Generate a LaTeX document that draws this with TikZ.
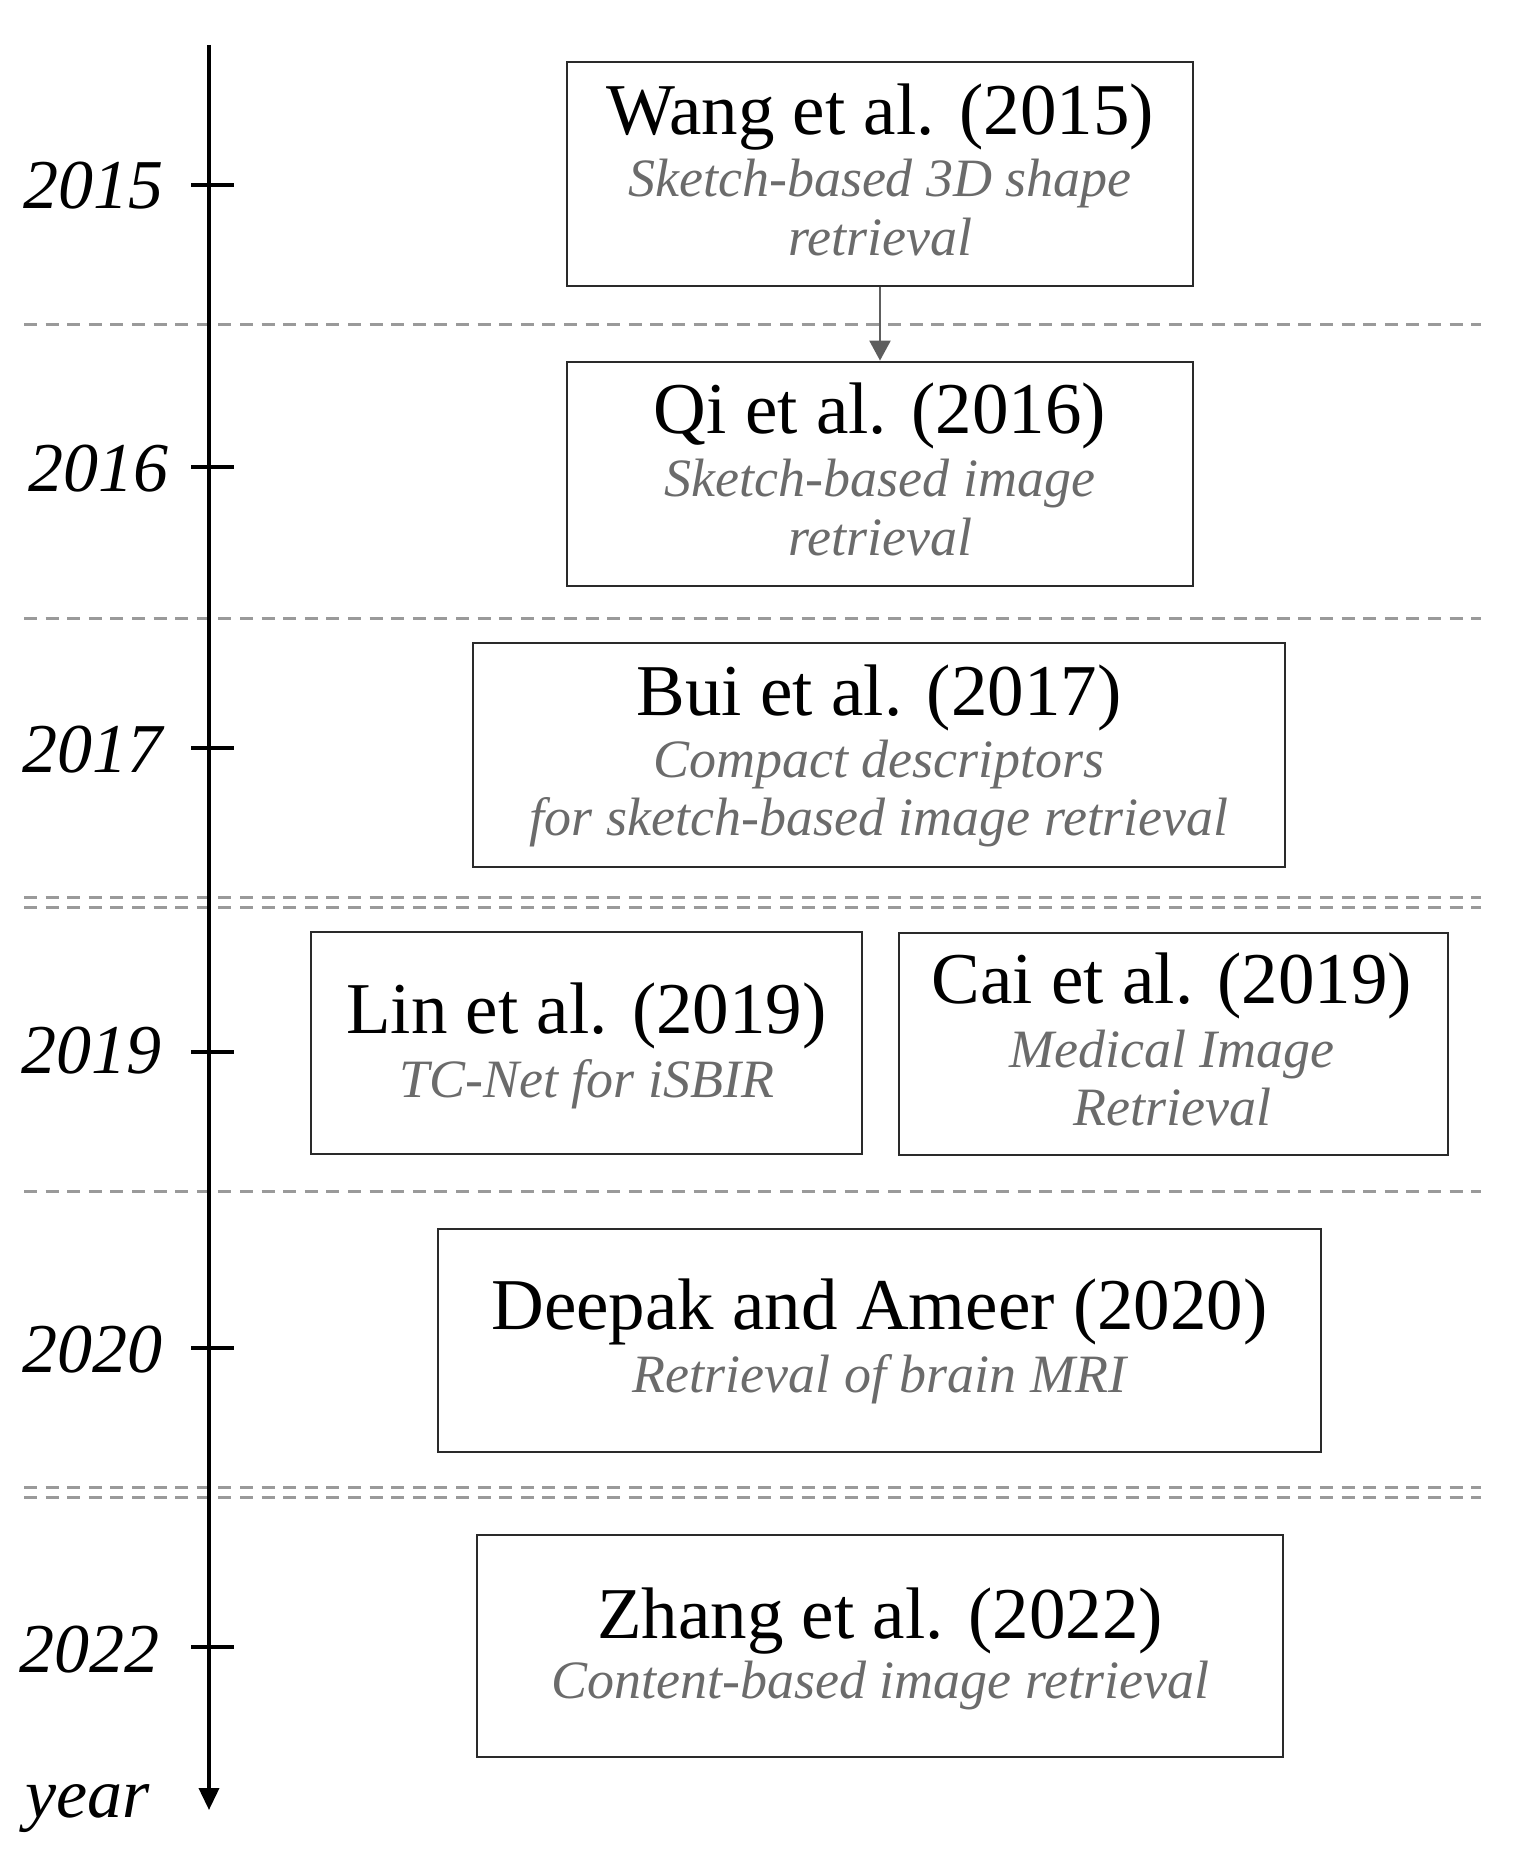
\documentclass[tikz,border=0pt]{standalone}
\usepackage{fontspec}
\setmainfont{Liberation Serif}
\usetikzlibrary{arrows.meta}
\definecolor{subgray}{HTML}{6B6B6B}
\definecolor{dashgray}{HTML}{9A9A9A}
\definecolor{boxline}{HTML}{2A2A2A}
\definecolor{arrgray}{HTML}{5E5E5E}
\begin{document}
\begin{tikzpicture}[x=0.5pt,y=-0.5pt,
  box/.style={draw=boxline, line width=1.4pt, inner sep=0pt},
  ttl/.style={anchor=base, inner sep=0pt, font=\fontsize{36.5}{42}\selectfont},
  sub/.style={anchor=base, inner sep=0pt, text=subgray, font=\fontsize{27}{34}\selectfont\itshape},
  yr/.style={anchor=base east, inner sep=0pt, font=\fontsize{35}{42}\selectfont\itshape},
  sep/.style={draw=dashgray, line width=1.5pt, dash pattern=on 6.5pt off 4.3pt},
  axisline/.style={line width=1.85pt, -{Triangle[width=10pt,length=11pt]}},
  tickmark/.style={line width=1.9pt},
  link/.style={draw=arrgray, line width=1.2pt, -{Triangle[width=10.5pt,length=10pt]}}
]
\fill[white] (0,0) rectangle (1532,1861);
\useasboundingbox (0,0) rectangle (1532,1861);

% separators
\draw[sep] (24,325) -- (1481,325);
\draw[sep] (24,618) -- (1481,618);
\draw[sep] (24,897) -- (1481,897);
\draw[sep] (24,907) -- (1481,907);
\draw[sep] (24,1191) -- (1481,1191);
\draw[sep] (24,1487) -- (1481,1487);
\draw[sep] (24,1497) -- (1481,1497);

% axis
\coordinate (axtop) at (209,45);
\coordinate (axend) at (209,1810);
\draw[axisline] (axtop) -- (axend);
\foreach \ty in {185,467,748,1052,1348,1647}
  \draw[tickmark] (191,\ty) -- (234,\ty);

\node[yr] (y2015) at (164,209) {2015};
\node[yr] (y2016) at (169,491) {2016};
\node[yr] (y2017) at (163,772) {2017};
\node[yr] (y2019) at (162,1073) {2019};
\node[yr] (y2020) at (163,1372) {2020};
\node[yr] (y2022) at (160,1672) {2022};
\node[yr] (yearlbl) at (150,1817) {year};

% boxes
\node[box, minimum width=313pt, minimum height=112pt] (wang) at (880,174) {};
\node[box, minimum width=313pt, minimum height=112pt] (qi) at (880,474) {};
\node[box, minimum width=406pt, minimum height=112pt] (bui) at (879,755) {};
\node[box, minimum width=275.5pt, minimum height=111pt] (lin) at (586.5,1043) {};
\node[box, minimum width=274.5pt, minimum height=111pt] (cai) at (1173.5,1044) {};
\node[box, minimum width=441.5pt, minimum height=111.5pt] (deepak) at (879.5,1340.5) {};
\node[box, minimum width=403pt, minimum height=111pt] (zhang) at (880,1646) {};

% texts
\node[ttl] (wangT) at (880,135) {Wang et al. (2015)};
\node[sub] (wangS1) at (880,197) {Sketch-based 3D shape};
\node[sub] (wangS2) at (880,256) {retrieval};

\node[ttl] (qiT) at (880,434) {Qi et al. (2016)};
\node[sub] (qiS1) at (880,496) {Sketch-based image};
\node[sub] (qiS2) at (880,555) {retrieval};

\node[ttl] (buiT) at (879,715) {Bui et al. (2017)};
\node[sub] (buiS1) at (879,777) {Compact descriptors};
\node[sub] (buiS2) at (879,835) {for sketch-based image retrieval};

\node[ttl] (linT) at (586.5,1033) {Lin et al. (2019)};
\node[sub] (linS1) at (586.5,1097) {TC-Net for iSBIR};

\node[ttl] (caiT) at (1172,1003) {Cai et al. (2019)};
\node[sub] (caiS1) at (1172,1067) {Medical Image};
\node[sub] (caiS2) at (1172,1125) {Retrieval};

\node[ttl] (deepakT) at (879.5,1329) {Deepak and Ameer (2020)};
\node[sub] (deepakS1) at (879.5,1392) {Retrieval of brain MRI};

\node[ttl] (zhangT) at (880,1638) {Zhang et al. (2022)};
\node[sub] (zhangS1) at (880,1698) {Content-based image retrieval};

% connector
\draw[link] (wang.south) -- (qi.north);
\end{tikzpicture}
\end{document}
